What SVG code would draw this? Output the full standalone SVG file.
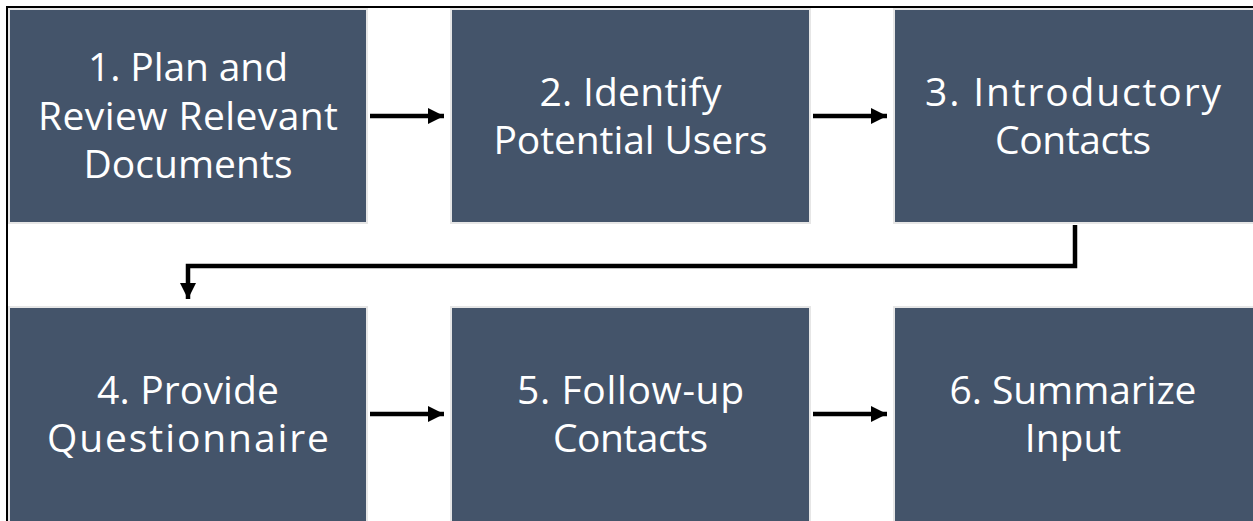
<svg xmlns="http://www.w3.org/2000/svg" width="1253" height="521" viewBox="0 0 1253 521">
<style>
.box{fill:#44546A;stroke:#E6E6E6;stroke-width:2}
.t{font-family:"Open Sans","Liberation Sans",sans-serif;font-size:39px;fill:#FFFFFF;text-anchor:middle}
.c{fill:none;stroke:#000;stroke-width:4.5}
</style>
<defs>
<marker id="ah" viewBox="0 0 10 10" refX="10" refY="5" markerWidth="3.7" markerHeight="3.6" orient="auto" markerUnits="strokeWidth">
<path d="M0,0 L10,5 L0,10 Z" fill="#000"/>
</marker>
</defs>
<rect x="0" y="0" width="1253" height="521" fill="#FFFFFF"/>
<rect x="7" y="7" width="1260" height="530" fill="none" stroke="#000" stroke-width="2"/>
<g id="n1"><rect class="box" x="9" y="9" width="358" height="214"/>
<text class="t" x="188" y="81" textLength="200" lengthAdjust="spacing">1. Plan and</text>
<text class="t" x="188" y="130" textLength="300" lengthAdjust="spacing">Review Relevant</text>
<text class="t" x="188" y="178" textLength="209" lengthAdjust="spacing">Documents</text></g>
<g id="n2"><rect class="box" x="451" y="9" width="359" height="214"/>
<text class="t" x="630.5" y="106" textLength="182" lengthAdjust="spacing">2. Identify</text>
<text class="t" x="630.5" y="154" textLength="274" lengthAdjust="spacing">Potential Users</text></g>
<g id="n3"><rect class="box" x="894" y="9" width="360" height="214"/>
<text class="t" x="1073" y="106" textLength="296" lengthAdjust="spacing">3. Introductory</text>
<text class="t" x="1073" y="154" textLength="156" lengthAdjust="spacing">Contacts</text></g>
<g id="n4"><rect class="box" x="9" y="307" width="358" height="220"/>
<text class="t" x="188" y="404" textLength="182" lengthAdjust="spacing">4. Provide</text>
<text class="t" x="188" y="452" textLength="282" lengthAdjust="spacing">Questionnaire</text></g>
<g id="n5"><rect class="box" x="451" y="307" width="359" height="220"/>
<text class="t" x="630.5" y="404" textLength="227" lengthAdjust="spacing">5. Follow-up</text>
<text class="t" x="630.5" y="452" textLength="155" lengthAdjust="spacing">Contacts</text></g>
<g id="n6"><rect class="box" x="894" y="307" width="360" height="220"/>
<text class="t" x="1073" y="404" textLength="247" lengthAdjust="spacing">6. Summarize</text>
<text class="t" x="1073" y="452">Input</text></g>
<g id="connectors">
<path class="c" d="M370,116 H444" marker-end="url(#ah)"/>
<path class="c" d="M813,116 H887" marker-end="url(#ah)"/>
<path class="c" d="M370,414 H444" marker-end="url(#ah)"/>
<path class="c" d="M813,414 H887" marker-end="url(#ah)"/>
<path class="c" d="M1075,225 V266 H188 V299" marker-end="url(#ah)"/>
</g>
</svg>
